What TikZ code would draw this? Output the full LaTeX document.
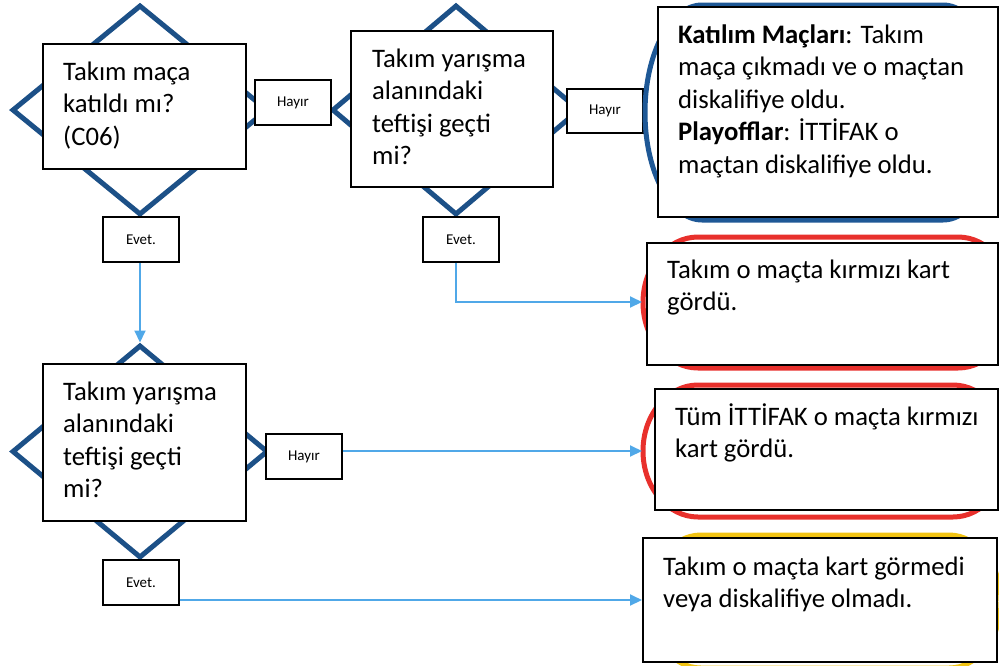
\documentclass[tikz,border=0pt]{standalone}
\usepackage{fontspec}
\setmainfont{Carlito}
\usetikzlibrary{shapes.geometric,arrows.meta}
\definecolor{dblue}{RGB}{28,80,135}
\definecolor{tblue}{RGB}{30,88,150}
\definecolor{tred}{RGB}{232,48,44}
\definecolor{tyellow}{RGB}{242,196,20}
\definecolor{lblue}{RGB}{80,168,232}
\newcommand\termshape[6]{%
  \pgfmathsetmacro\trmA{#1+#5}%
  \pgfmathsetmacro\trmB{#3-#5}%
  \pgfmathsetmacro\trmM{(#2+#4)/2}%
  \pgfmathsetmacro\trmK{0.5523*#5}%
  \pgfmathsetmacro\trmKy{0.5523*(#4-#2)/2}%
  \draw[#6] (\trmA,#2) -- (\trmB,#2)
    .. controls ({\trmB+\trmK},#2) and (#3,{\trmM-\trmKy}) .. (#3,\trmM)
    .. controls (#3,{\trmM+\trmKy}) and ({\trmB+\trmK},#4) .. (\trmB,#4)
    -- (\trmA,#4)
    .. controls ({\trmA-\trmK},#4) and (#1,{\trmM+\trmKy}) .. (#1,\trmM)
    .. controls (#1,{\trmM-\trmKy}) and ({\trmA-\trmK},#2) .. (\trmA,#2) -- cycle;
}
\tikzset{
  dia/.style={diamond, draw=dblue, line width=5pt, inner sep=0pt},
  term/.style={line width=5pt, fill=white},
  box/.style={draw=black, line width=1.8pt, fill=white, inner sep=0pt},
  lbl/.style={box, font=\fontsize{15}{18}\selectfont, minimum width=76pt, minimum height=45pt},
  bigtxt/.style={anchor=north west, inner sep=0pt, align=left, font=\fontsize{26.7}{32.5}\selectfont},
  conn/.style={draw=lblue, line width=2pt, -{Triangle[length=12pt,width=11pt]}}
}
\begin{document}
\begin{tikzpicture}[x=1pt,y=-1pt]
\useasboundingbox (0,0) rectangle (999,665);
% diamonds
\node[dia, minimum width=256pt, minimum height=210pt] (d1) at (140,110) {};
\node[dia, minimum width=248pt, minimum height=210pt] (d2) at (456,110) {};
\node[dia, minimum width=256pt, minimum height=213pt] (d3) at (140,451.5) {};
% question boxes
\node[box, minimum width=203pt, minimum height=125pt] (q1) at (144.5,106.5) {};
\node[box, minimum width=202pt, minimum height=156pt] (q2) at (452,109) {};
\node[box, minimum width=203pt, minimum height=157pt] (q3) at (144.5,442.5) {};
\node[bigtxt] (t1) at (63,57.25) {\strut Takım maça\\katıldı mı?\\(C06)};
\node[bigtxt] (t2) at (372,44.25) {\strut Takım yarışma\\alanındaki\\teftişi geçti\\mi?};
\node[bigtxt] (t3) at (63,377.25) {\strut Takım yarışma\\alanındaki\\teftişi geçti\\mi?};
% labels
\node[lbl] (h1) at (293,102.5) {Hayır};
\node[lbl, minimum height=44pt] (h2) at (605,111) {Hayır};
\node[lbl] (h3) at (304,456.5) {Hayır};
\node[lbl] (e1) at (141,239.5) {Evet.};
\node[lbl] (e2) at (461,239.5) {Evet.};
\node[lbl] (e3) at (141,582.5) {Evet.};
% terminators
\termshape{645}{5}{1000}{220}{57}{term, draw=tblue}
\termshape{643}{237}{1013}{368}{55}{term, draw=tred}
\termshape{643}{385}{1008}{517}{55}{term, draw=tred}
\termshape{649}{535}{1001}{668}{52}{term, draw=tyellow}
\coordinate (tB) at (642,302);
\coordinate (tC) at (642,451);
\coordinate (tD) at (642,600);
% outcome boxes
\node[box, minimum width=340pt, minimum height=210pt] (ra) at (828,112) {};
\node[box, minimum width=351pt, minimum height=122pt] (rb) at (822.5,304) {};
\node[box, minimum width=343pt, minimum height=121pt] (rc) at (826.5,449.5) {};
\node[box, minimum width=354pt, minimum height=124pt] (rd) at (820,600) {};
\node[bigtxt] (ta) at (678,20.25) {\strut\textbf{Katılım Maçları}: Takım\\maça çıkmadı ve o maçtan\\diskalifiye oldu.\\\textbf{Playofflar}: İTTİFAK o\\maçtan diskalifiye oldu.};
\node[bigtxt] (tb) at (667,255.25) {\strut Takım o maçta kırmızı kart\\gördü.};
\node[bigtxt] (tc) at (675,402.25) {\strut Tüm İTTİFAK o maçta kırmızı\\kart gördü.};
\node[bigtxt] (td) at (663,552.25) {\strut Takım o maçta kart görmedi\\veya diskalifiye olmadı.};
% connectors
\draw[conn] (d3.north |- e1.south) -- (d3.north);
\draw[conn] (d2.south |- e2.south) |- (tB);
\draw[conn] (h3.east |- tC) -- (tC);
\draw[conn] (e3.east |- tD) -- (tD);
\end{tikzpicture}
\end{document}
